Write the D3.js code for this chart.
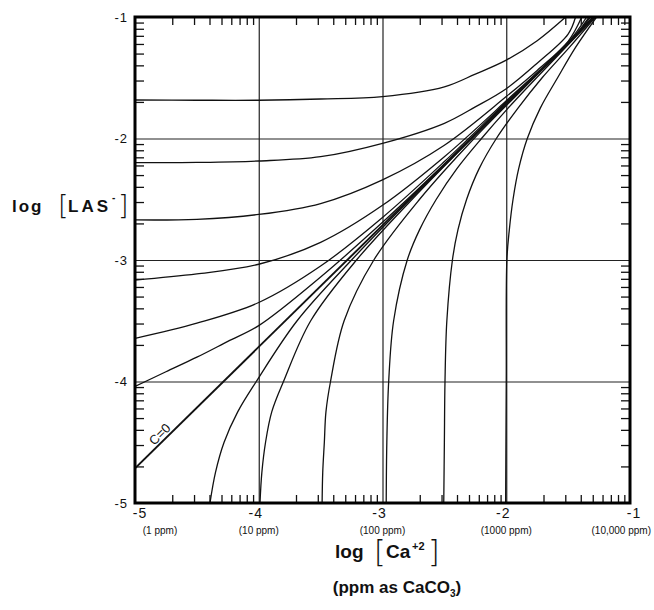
<!DOCTYPE html>
<html>
<head>
<meta charset="utf-8">
<script src="https://cdn.jsdelivr.net/npm/d3@7"></script>
<style>
  body { margin: 0; background: #fff; }
  text { font-family: "Liberation Sans", Arial, sans-serif; fill: #111; }
</style>
</head>
<body>
<svg width="654" height="610"></svg>
<script>
// axis decades and labels
const xDecades = [-5, -4, -3, -2, -1];
const yDecades = [-1, -2, -3, -4, -5];
const xTickLabels = ["-5", "-4", "-3", "-2", "-1"];
const ppmLabels = ["(1 ppm)", "(10 ppm)", "(100 ppm)", "(1000 ppm)", "(10,000 ppm)"];
const yTickLabels = ["-1", "-2", "-3", "-4", "-5"];

// curves that leave the left edge, read as [log Ca, log LAS]
const curveA = [[-5, -1.683], [-4.5, -1.685], [-4, -1.685], [-3.5, -1.675], [-3, -1.655], [-2.5, -1.575], [-2.25, -1.47], [-2, -1.355], [-1.75, -1.195], [-1.52, -1.0]];
const curveB = [[-5, -2.199], [-4.5, -2.197], [-4, -2.185], [-3.5, -2.15], [-3, -2.04], [-2.5, -1.875], [-2.25, -1.74], [-2, -1.59], [-1.75, -1.38], [-1.5, -1.14], [-1.44, -1.0]];
const curveC = [[-5, -2.67], [-4.5, -2.665], [-4, -2.625], [-3.5, -2.535], [-3, -2.34], [-2.5, -2.055], [-2, -1.655], [-1.75, -1.44], [-1.5, -1.2], [-1.39, -1.0]];
const curveD = [[-5, -3.165], [-4.5, -3.115], [-4, -3.035], [-3.5, -2.855], [-3, -2.55], [-2.5, -2.15], [-2, -1.69], [-1.5, -1.21], [-1.35, -1.0]];
const curveE = [[-5, -3.645], [-4.5, -3.52], [-4, -3.35], [-3.5, -3.05], [-3, -2.65], [-2.5, -2.19], [-2, -1.70], [-1.5, -1.22], [-1.33, -1.0]];
const curveF = [[-5, -4.04], [-4.75, -3.92], [-4.5, -3.80], [-4.25, -3.67], [-4, -3.54], [-3.5, -3.14], [-3, -2.69], [-2.5, -2.21], [-2, -1.71], [-1.5, -1.225], [-1.32, -1.0]];
const curveZero = [[-5, -4.715], [-1.285, -1.0]];

// curves that rise from the bottom edge
const curveG = [[-4.394, -5], [-4.35, -4.75], [-4.28, -4.5], [-4.17, -4.25], [-4.02, -4], [-3.69, -3.5], [-3.25, -3], [-2.775, -2.5], [-2.28, -2], [-1.785, -1.5], [-1.30, -1]];
const curveH = [[-3.99, -5], [-3.975, -4.75], [-3.945, -4.5], [-3.895, -4.25], [-3.8, -4], [-3.58, -3.5], [-3.21, -3], [-2.76, -2.5], [-2.28, -2], [-1.785, -1.5], [-1.295, -1]];
const curveI = [[-3.488, -5], [-3.483, -4.75], [-3.47, -4.5], [-3.457, -4.25], [-3.42, -4], [-3.31, -3.5], [-3.07, -3], [-2.7, -2.5], [-2.26, -2], [-1.775, -1.5], [-1.29, -1]];
const curveJ = [[-2.97, -5], [-2.965, -4.5], [-2.95, -4], [-2.91, -3.5], [-2.8, -3], [-2.7, -2.75], [-2.565, -2.5], [-2.4, -2.25], [-2.2, -2], [-1.985, -1.75], [-1.755, -1.5], [-1.52, -1.25], [-1.285, -1]];
const curveK = [[-2.505, -5], [-2.5, -4.5], [-2.495, -4], [-2.48, -3.5], [-2.435, -3], [-2.39, -2.75], [-2.32, -2.5], [-2.22, -2.25], [-2.08, -2], [-1.905, -1.75], [-1.71, -1.5], [-1.49, -1.25], [-1.28, -1]];
const curveL = [[-2.005, -5], [-2.0, -4], [-1.995, -3], [-1.975, -2.75], [-1.945, -2.5], [-1.9, -2.25], [-1.83, -2], [-1.725, -1.75], [-1.585, -1.5], [-1.44, -1.25], [-1.27, -1]];

const svg = d3.select("svg");
svg.append("rect").attr("width", 654).attr("height", 610).attr("fill", "#fff");

const x = d3.scaleLinear().domain([-5, -1]).range([135, 630]);
const y = d3.scaleLinear().domain([-5, -1]).range([503, 17]);

svg.append("defs").append("clipPath").attr("id", "plot")
  .append("rect")
  .attr("x", x(-5)).attr("y", y(-1))
  .attr("width", x(-1) - x(-5)).attr("height", y(-5) - y(-1));

// grid lines at the decades
svg.append("g")
  .attr("transform", "translate(0," + y(-5) + ")")
  .call(d3.axisBottom(x).tickValues([-4, -3, -2]).tickSize(-(y(-5) - y(-1))).tickFormat(""))
  .call(g => g.select(".domain").remove())
  .call(g => g.selectAll("line").attr("stroke", "#222").attr("stroke-width", 1.2));
svg.append("g")
  .attr("transform", "translate(" + x(-5) + ",0)")
  .call(d3.axisLeft(y).tickValues([-4, -3, -2]).tickSize(-(x(-1) - x(-5))).tickFormat(""))
  .call(g => g.select(".domain").remove())
  .call(g => g.selectAll("line").attr("stroke", "#222").attr("stroke-width", 1.2));

// curves
const line = d3.line()
  .x(d => x(d[0]))
  .y(d => y(d[1]))
  .curve(d3.curveCatmullRom.alpha(0.5));

const curves = [curveA, curveB, curveC, curveD, curveE, curveF,
  curveG, curveH, curveI, curveJ, curveK, curveL];

const gc = svg.append("g").attr("clip-path", "url(#plot)");
gc.selectAll("path.c").data(curves).enter().append("path")
  .attr("class", "c")
  .attr("d", line)
  .attr("fill", "none")
  .attr("stroke", "#111")
  .attr("stroke-width", 1.3);

gc.append("path")
  .attr("d", line(curveZero))
  .attr("fill", "none")
  .attr("stroke", "#111")
  .attr("stroke-width", 1.9);

// C=0 label along the line
const ang = Math.atan2(y(curveZero[1][1]) - y(curveZero[0][1]), x(curveZero[1][0]) - x(curveZero[0][0])) * 180 / Math.PI;
const lx = x(-4.76) - 5, ly = y(-4.475) - 5;
svg.append("text")
  .attr("transform", "translate(" + lx + "," + ly + ") rotate(" + ang + ")")
  .attr("text-anchor", "middle")
  .attr("dy", "0.35em")
  .style("font-size", "13px")
  .text("C=0");

// log minor ticks on all four sides
const minor = d3.range(-5, -1).flatMap(d => d3.range(2, 10).map(k => d + Math.log10(k)));
const tickStyle = g => {
  g.select(".domain").remove();
  g.selectAll("line").attr("stroke", "#111").attr("stroke-width", 1.3);
};
svg.append("g").attr("transform", "translate(0," + y(-5) + ")")
  .call(d3.axisBottom(x).tickValues(minor).tickSize(-8).tickFormat("")).call(tickStyle);
svg.append("g").attr("transform", "translate(0," + y(-1) + ")")
  .call(d3.axisTop(x).tickValues(minor).tickSize(-8).tickFormat("")).call(tickStyle);
svg.append("g").attr("transform", "translate(" + x(-5) + ",0)")
  .call(d3.axisLeft(y).tickValues(minor).tickSize(-9).tickFormat("")).call(tickStyle);
svg.append("g").attr("transform", "translate(" + x(-1) + ",0)")
  .call(d3.axisRight(y).tickValues(minor).tickSize(-9).tickFormat("")).call(tickStyle);

// frame
svg.append("rect")
  .attr("x", x(-5)).attr("y", y(-1))
  .attr("width", x(-1) - x(-5)).attr("height", y(-5) - y(-1))
  .attr("fill", "none").attr("stroke", "#000").attr("stroke-width", 3);

// y tick labels
svg.selectAll("text.yl").data(yDecades).enter().append("text")
  .attr("class", "yl")
  .attr("x", 128).attr("y", d => y(d))
  .attr("dy", "0.35em")
  .attr("text-anchor", "end")
  .style("font-size", "13px")
  .style("letter-spacing", "1px")
  .text((d, i) => yTickLabels[i]);

// x tick labels
svg.selectAll("text.xl").data(xDecades).enter().append("text")
  .attr("class", "xl")
  .attr("x", (d, i) => x(d) + (i == 0 ? 5 : i == 4 ? 4 : -3))
  .attr("y", 518)
  .attr("text-anchor", "middle")
  .style("font-size", "14px")
  .style("letter-spacing", "1px")
  .text((d, i) => xTickLabels[i]);

svg.selectAll("text.ppm").data(xDecades).enter().append("text")
  .attr("class", "ppm")
  .attr("x", (d, i) => i == 0 ? x(d) + 25 : i == 4 ? 651 : x(d))
  .attr("y", 534)
  .attr("text-anchor", (d, i) => i == 4 ? "end" : "middle")
  .style("font-size", "10px")
  .text((d, i) => ppmLabels[i]);

// y axis title: log [LAS-]
const yt = svg.append("g");
yt.append("text").attr("x", 12).attr("y", 212)
  .style("font-size", "17px").style("font-weight", "bold").style("letter-spacing", "2px")
  .text("log");
yt.append("text").attr("x", 58).attr("y", 214)
  .style("font-size", "27px").style("font-weight", "300").style("font-family", "DejaVu Sans")
  .text("[");
yt.append("text").attr("x", 68).attr("y", 212)
  .style("font-size", "17px").style("font-weight", "bold").style("letter-spacing", "3px")
  .text("LAS");
yt.append("text").attr("x", 112).attr("y", 201)
  .style("font-size", "10px").style("font-weight", "bold")
  .text("-");
yt.append("text").attr("x", 118).attr("y", 214)
  .style("font-size", "27px").style("font-weight", "300").style("font-family", "DejaVu Sans")
  .text("]");

// x axis title: log [Ca+2]
const xt = svg.append("g");
xt.append("text").attr("x", 335).attr("y", 558)
  .style("font-size", "19px").style("font-weight", "bold")
  .text("log");
xt.append("text").attr("x", 374).attr("y", 562)
  .style("font-size", "30px").style("font-weight", "300").style("font-family", "DejaVu Sans")
  .text("[");
xt.append("text").attr("x", 386).attr("y", 558)
  .style("font-size", "19px").style("font-weight", "bold")
  .text("Ca");
xt.append("text").attr("x", 412).attr("y", 550)
  .style("font-size", "11px").style("font-weight", "bold")
  .text("+2");
xt.append("text").attr("x", 428).attr("y", 562)
  .style("font-size", "30px").style("font-weight", "300").style("font-family", "DejaVu Sans")
  .text("]");

const sub = svg.append("text").attr("x", 397).attr("y", 593)
  .attr("text-anchor", "middle")
  .style("font-size", "17px").style("font-weight", "bold");
sub.append("tspan").text("(ppm as CaCO");
sub.append("tspan").attr("dy", 4).style("font-size", "10px").text("3");
sub.append("tspan").attr("dy", -4).text(")");
</script>
</body>
</html>
